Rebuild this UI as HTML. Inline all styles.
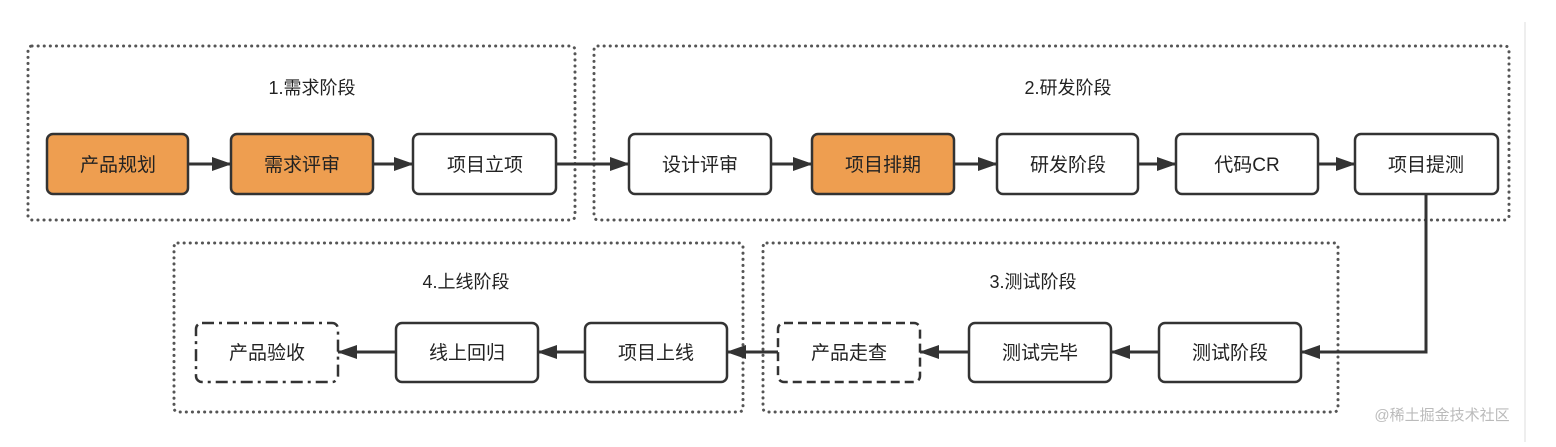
<!DOCTYPE html>
<html><head><meta charset="utf-8"><style>
html,body{margin:0;padding:0;background:#fff;}
svg text{font-family:"Liberation Sans","Noto Sans CJK SC",sans-serif;fill:#222;}
</style></head><body>
<svg width="1556" height="442" viewBox="0 0 1556 442" xmlns="http://www.w3.org/2000/svg">
<defs>
<marker id="a2" markerWidth="20" markerHeight="14" refX="19" refY="7" orient="auto" markerUnits="userSpaceOnUse">
<path d="M0,0 L20,7 L0,14 Z" fill="#333"/></marker>
</defs>
<line x1="1525" y1="22" x2="1525" y2="442" stroke="#eee" stroke-width="2"/>
<g fill="none" stroke="#555" stroke-width="3" stroke-dasharray="0.1 6" stroke-linecap="round">
<rect x="28" y="46" width="547" height="174" rx="4"/>
<rect x="594" y="46" width="915" height="174" rx="4"/>
<rect x="174" y="243" width="569" height="169" rx="4"/>
<rect x="763" y="243" width="575" height="169" rx="4"/>
</g>
<g font-size="18" text-anchor="middle">
<text x="312" y="94">1.需求阶段</text>
<text x="1068" y="94">2.研发阶段</text>
<text x="466" y="288">4.上线阶段</text>
<text x="1033" y="288">3.测试阶段</text>
</g>
<g stroke="#333" stroke-width="2.5">
<rect x="47" y="134" width="141" height="60" rx="6" fill="#EE9E50"/>
<rect x="231" y="134" width="142" height="60" rx="6" fill="#EE9E50"/>
<rect x="413" y="134" width="143" height="60" rx="6" fill="#fff"/>
<rect x="629" y="134" width="142" height="60" rx="6" fill="#fff"/>
<rect x="812" y="134" width="142" height="60" rx="6" fill="#EE9E50"/>
<rect x="997" y="134" width="141" height="60" rx="6" fill="#fff"/>
<rect x="1176" y="134" width="142" height="60" rx="6" fill="#fff"/>
<rect x="1355" y="134" width="143" height="60" rx="6" fill="#fff"/>
<rect x="196" y="323" width="142" height="59" rx="6" fill="#fff" stroke-dasharray="12 5 3 5"/>
<rect x="396" y="323" width="142" height="59" rx="6" fill="#fff"/>
<rect x="585" y="323" width="142" height="59" rx="6" fill="#fff"/>
<rect x="778" y="323" width="142" height="59" rx="6" fill="#fff" stroke-dasharray="9 5"/>
<rect x="969" y="323" width="142" height="59" rx="6" fill="#fff"/>
<rect x="1159" y="323" width="142" height="59" rx="6" fill="#fff"/>
</g>
<g font-size="19" text-anchor="middle">
<text x="118" y="171">产品规划</text>
<text x="302" y="171">需求评审</text>
<text x="485" y="171">项目立项</text>
<text x="700" y="171">设计评审</text>
<text x="883" y="171">项目排期</text>
<text x="1068" y="171">研发阶段</text>
<text x="1247" y="171">代码CR</text>
<text x="1426" y="171">项目提测</text>
<text x="267" y="359">产品验收</text>
<text x="467" y="359">线上回归</text>
<text x="656" y="359">项目上线</text>
<text x="849" y="359">产品走查</text>
<text x="1040" y="359">测试完毕</text>
<text x="1230" y="359">测试阶段</text>
</g>
<g stroke="#333" stroke-width="3" fill="none" marker-end="url(#a2)">
<line x1="188" y1="164" x2="231" y2="164"/>
<line x1="373" y1="164" x2="413" y2="164"/>
<line x1="556" y1="164" x2="629" y2="164"/>
<line x1="771" y1="164" x2="812" y2="164"/>
<line x1="954" y1="164" x2="997" y2="164"/>
<line x1="1138" y1="164" x2="1176" y2="164"/>
<line x1="1318" y1="164" x2="1355" y2="164"/>
<polyline points="1426,194 1426,352 1301,352"/>
<line x1="1159" y1="352" x2="1111" y2="352"/>
<line x1="969" y1="352" x2="920" y2="352"/>
<line x1="778" y1="352" x2="727" y2="352"/>
<line x1="585" y1="352" x2="538" y2="352"/>
<line x1="396" y1="352" x2="338" y2="352"/>
</g>
<text x="1442" y="420" font-size="15" text-anchor="middle" style="fill:#bbb">@稀土掘金技术社区</text>
</svg>
</body></html>
